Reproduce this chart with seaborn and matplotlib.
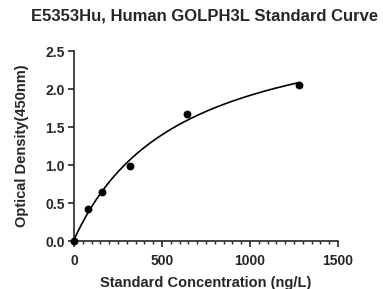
import numpy as np
import pandas as pd
import matplotlib
matplotlib.use('Agg')
import matplotlib.pyplot as plt
import seaborn as sns
from matplotlib.ticker import MultipleLocator

# Standard points
concentration = [0, 80, 160, 320, 640, 1280]
optical_density = [0.0, 0.42, 0.65, 0.99, 1.67, 2.06]

title = "E5353Hu, Human GOLPH3L Standard Curve"
x_label = "Standard Concentration (ng/L)"
y_label = "Optical Density(450nm)"

df = pd.DataFrame({'conc': concentration, 'od': optical_density})

# Fit a 4PL curve: y = a + (d - a) * s/(1+s), s = (x/c)^b
x = np.array(concentration, dtype=float)
y = np.array(optical_density, dtype=float)
best = None
for b in np.linspace(0.8, 2.5, 171):
    for c in np.linspace(200, 4000, 381):
        s = (x / c) ** b
        g = s / (1 + s)
        A = np.column_stack([1 - g, g])
        coef, *_ = np.linalg.lstsq(A, y, rcond=None)
        err = np.sum((A @ coef - y) ** 2)
        if best is None or err < best[0]:
            best = (err, b, c, coef)
_, b, c, (a, d) = best
xs = np.linspace(0, max(concentration), 300)
ss = (xs / c) ** b
fit = pd.DataFrame({'conc': xs, 'od': a + (d - a) * ss / (1 + ss)})

sns.set_style('ticks')
plt.rcParams['font.family'] = ['Liberation Sans', 'DejaVu Sans']

fig = plt.figure(figsize=(3.83, 2.89), dpi=100)
ax = fig.add_axes([0.193, 0.166, 0.6895, 0.657])

sns.lineplot(data=fit, x='conc', y='od', ax=ax, color='black', linewidth=1.2)
sns.scatterplot(data=df, x='conc', y='od', ax=ax, color='black', s=32,
                edgecolor='black', linewidth=0, zorder=5, clip_on=False)

ax.set_xlim(0, 1500)
ax.set_ylim(0, 2.5)
ax.xaxis.set_major_locator(MultipleLocator(500))
ax.xaxis.set_minor_locator(MultipleLocator(50))
ax.yaxis.set_major_locator(MultipleLocator(0.5))
ax.yaxis.set_major_formatter(matplotlib.ticker.FormatStrFormatter('%.1f'))

for side in ['top', 'right']:
    ax.spines[side].set_visible(False)
for side in ['left', 'bottom']:
    ax.spines[side].set_linewidth(1.2)
ax.tick_params(axis='both', which='major', direction='out', length=4,
               width=1.2, labelsize=10, pad=2.5)
ax.tick_params(axis='x', which='major', pad=5)
ax.tick_params(axis='x', which='minor', direction='out', length=2.5, width=1.0)
for lab in ax.get_xticklabels() + ax.get_yticklabels():
    lab.set_fontweight('bold')

ax.set_xlabel(x_label, fontsize=10.5, fontweight='bold', labelpad=6)
ax.set_ylabel(y_label, fontsize=10.5, fontweight='bold', labelpad=12)
fig.suptitle(title, fontsize=12, fontweight='bold', x=0.535, y=0.97)

fig.savefig('out.png', dpi=100)
